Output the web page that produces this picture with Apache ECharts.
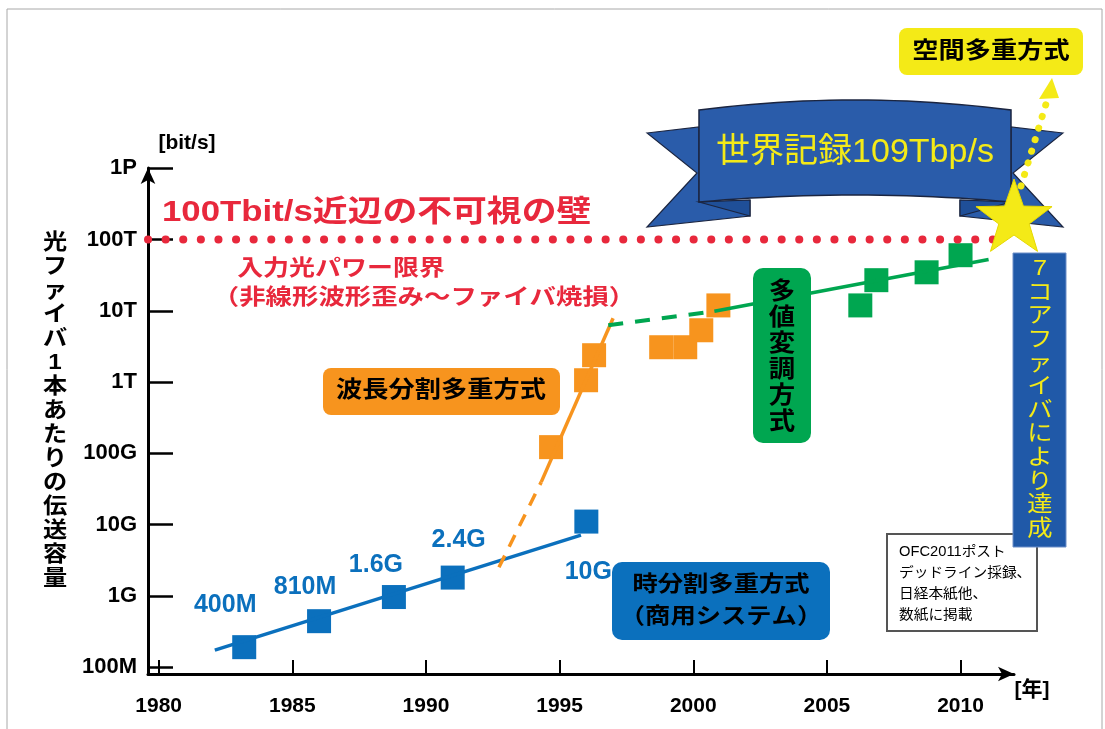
<!DOCTYPE html>
<html lang="ja">
<head>
    <meta charset="UTF-8">
    <title>光ファイバ1本あたりの伝送容量</title>
    <style>
        html, body {
            margin: 0;
            background: #fff;
        }
        #main {
            width: 1105px;
            height: 729px;
        }
    </style>
</head>
<body>
<div id="main"></div>
<script src="https://cdn.jsdelivr.net/npm/echarts@6/dist/echarts.min.js"></script>
<script>
    // 軸
    var xTickValues = [1980, 1985, 1990, 1995, 2000, 2005, 2010];
    var yTickValues = [1e8, 1e9, 1e10, 1e11, 1e12, 1e13, 1e14, 1e15];
    var yTickLabels = ['100M', '1G', '10G', '100G', '1T', '10T', '100T', '1P'];

    // 時分割多重方式
    var tdmYears = [1983.2, 1986.0, 1988.8, 1991.0, 1996.0];
    var tdmRates = [1.9e8, 4.4e8, 9.6e8, 1.8e9, 1.1e10];
    var tdmLabels = ['400M', '810M', '1.6G', '2.4G', '10G'];
    var tdmTrendYears = [1982.1, 1995.8];
    var tdmTrendRates = [1.73e8, 7.1e9];

    // 波長分割多重方式
    var wdmYears = [1994.68, 1995.99, 1996.29, 1998.8, 1999.7, 2000.3, 2000.94];
    var wdmRates = [1.22e11, 1.06e12, 2.38e12, 3.08e12, 3.08e12, 5.33e12, 1.19e13];
    var wdmDashYears = [1992.73, 1994.31];
    var wdmDashRates = [2.51e9, 3.94e10];
    var wdmTrendYears = [1994.31, 1997.0];
    var wdmTrendRates = [3.94e10, 7.85e12];

    // 多値変調方式
    var mlmYears = [2006.25, 2006.85, 2008.73, 2010.0];
    var mlmRates = [1.19e13, 2.69e13, 3.47e13, 6.03e13];
    var mlmDashYears = [1996.82, 2000.79];
    var mlmDashRates = [6.27e12, 9.84e12];
    var mlmTrendYears = [2000.79, 2011.05];
    var mlmTrendRates = [9.84e12, 5.25e13];

    // 100Tbit/s の壁
    var wallYears = [1979.6, 2011.3];
    var wallRates = [1e14, 1e14];

    var BLUE = '#0b70bd';
    var ORANGE = '#f7941e';
    var GREEN = '#00a650';
    var RED = '#e8283c';
    var YELLOW = '#f4ea17';
    var NAVY = '#2a5caa';
    var FONT = '"Liberation Sans", "Noto Sans CJK JP", sans-serif';

    // ラベル位置（点の中心からのずれ）
    var tdmLabelOffsets = [[-19, -42], [-14, -34], [-18, -32], [6, -37], [2, 51]];

    function pairs(xs, ys) {
        return xs.map(function (x, i) {
            return [x, ys[i]];
        });
    }

    function text(x, y, s, size, weight, color, extra) {
        var el = {
            type: 'text', x: x, y: y, z: 100,
            style: {
                text: s,
                font: weight + ' ' + size + 'px ' + FONT,
                fill: color,
                align: 'center', verticalAlign: 'middle',
                textAlign: 'center', textVerticalAlign: 'middle'
            }
        };
        if (extra) {
            for (var k in extra) {
                if (k === 'style') {
                    for (var s2 in extra.style) el.style[s2] = extra.style[s2];
                } else {
                    el[k] = extra[k];
                }
            }
        }
        return el;
    }

    function vertical(s) {
        return s.split('').join('\n');
    }

    function starPoints(cx, cy, R, r) {
        var pts = [];
        for (var i = 0; i < 10; i++) {
            var a = -Math.PI / 2 + i * Math.PI / 5;
            var rad = i % 2 === 0 ? R : r;
            pts.push([cx + rad * Math.cos(a), cy + rad * Math.sin(a)]);
        }
        return pts;
    }

    // リボン本体（上下がゆるく弧を描く）
    function ribbonBody(x0, x1, top0, topMid, bot0, botMid) {
        var pts = [], n = 24, i, t;
        for (i = 0; i <= n; i++) {
            t = i / n;
            pts.push([x0 + (x1 - x0) * t, top0 - (top0 - topMid) * 4 * t * (1 - t)]);
        }
        for (i = n; i >= 0; i--) {
            t = i / n;
            pts.push([x0 + (x1 - x0) * t, bot0 - (bot0 - botMid) * 4 * t * (1 - t)]);
        }
        return pts;
    }

    function mirror(pts, axis2) {
        return pts.map(function (p) {
            return [axis2 - p[0], p[1]];
        });
    }

    var leftTail = [[647, 133], [699, 127], [699, 202], [750, 200], [750, 216], [647, 227], [697, 173]];
    var leftFold = [[699, 202], [750, 200], [750, 216]];

    var chart = echarts.init(document.getElementById('main'));

    var option = {
        animation: false,
        backgroundColor: '#fff',
        grid: {left: 148, right: 91, top: 168, bottom: 55},
        xAxis: {
            type: 'value',
            min: 1979.6,
            max: 2012,
            axisLine: {
                show: true, onZero: false,
                symbol: ['none', 'arrow'], symbolSize: [11, 16],
                lineStyle: {color: '#000', width: 3}
            },
            axisTick: {
                show: true, inside: true, length: 14,
                customValues: xTickValues,
                lineStyle: {color: '#000', width: 2}
            },
            axisLabel: {
                customValues: xTickValues,
                margin: 22,
                color: '#000',
                fontSize: 21,
                fontWeight: 'bold',
                fontFamily: 'Liberation Sans',
                formatter: function (v) {
                    return String(Math.round(v));
                }
            },
            splitLine: {show: false}
        },
        yAxis: {
            type: 'log',
            logBase: 10,
            min: Math.pow(10, 7.902),
            max: 1.01e15,
            axisLine: {
                show: true, onZero: false,
                symbol: ['none', 'arrow'], symbolSize: [11, 16],
                lineStyle: {color: '#000', width: 3}
            },
            axisTick: {
                show: true, inside: true, length: 25,
                customValues: yTickValues,
                lineStyle: {color: '#000', width: 2.5}
            },
            axisLabel: {
                customValues: yTickValues,
                margin: 11,
                color: '#000',
                fontSize: 22,
                fontWeight: 'bold',
                fontFamily: 'Liberation Sans',
                formatter: function (v) {
                    var i = Math.round(Math.log(v) / Math.LN10) - 8;
                    return yTickLabels[i] || '';
                }
            },
            splitLine: {show: false}
        },
        series: [
            {
                type: 'line', symbol: 'none', silent: true,
                data: pairs(tdmTrendYears, tdmTrendRates),
                lineStyle: {color: BLUE, width: 3.5}
            },
            {
                type: 'line', symbol: 'none', silent: true,
                data: pairs(wdmDashYears, wdmDashRates),
                lineStyle: {color: ORANGE, width: 3.5, type: [13, 10]}
            },
            {
                type: 'line', symbol: 'none', silent: true,
                data: pairs(wdmTrendYears, wdmTrendRates),
                lineStyle: {color: ORANGE, width: 3.5}
            },
            {
                type: 'line', symbol: 'none', silent: true,
                data: pairs(mlmDashYears, mlmDashRates),
                lineStyle: {color: GREEN, width: 4, type: [15, 12]}
            },
            {
                type: 'line', symbol: 'none', silent: true,
                data: pairs(mlmTrendYears, mlmTrendRates),
                lineStyle: {color: GREEN, width: 3.5}
            },
            {
                type: 'scatter', symbol: 'rect', symbolSize: 24,
                itemStyle: {color: BLUE, opacity: 1},
                data: pairs(tdmYears, tdmRates).map(function (p, i) {
                    return {value: p, label: {offset: tdmLabelOffsets[i]}};
                }),
                label: {
                    show: true,
                    position: 'inside',
                    color: BLUE,
                    fontSize: 25,
                    fontWeight: 'bold',
                    fontFamily: 'Liberation Sans',
                    formatter: function (p) {
                        return tdmLabels[p.dataIndex];
                    }
                }
            },
            {
                type: 'scatter', symbol: 'rect', symbolSize: 24,
                itemStyle: {color: ORANGE, opacity: 1},
                data: pairs(wdmYears, wdmRates)
            },
            {
                type: 'scatter', symbol: 'rect', symbolSize: 24,
                itemStyle: {color: GREEN, opacity: 1},
                data: pairs(mlmYears, mlmRates)
            },
            {
                type: 'line', symbol: 'none', silent: true, clip: false,
                data: pairs(wallYears, wallRates),
                lineStyle: {color: RED, width: 8, type: [0.1, 17.5], cap: 'round'}
            }
        ],
        graphic: [
            // 外枠
            {
                type: 'rect', z: 0, silent: true,
                shape: {x: 7, y: 9, width: 1095, height: 740},
                style: {fill: 'none', stroke: '#a8a8a8', lineWidth: 1}
            },
            text(187, 143, '[bit/s]', 21, 'bold', '#000'),
            text(1032, 690, '[年]', 21, 'bold', '#000'),
            text(55, 411, vertical('光ファイバ1本あたりの伝送容量'), 22, 'bold', '#000',
                {scaleX: 1.1, style: {lineHeight: 24}}),

            // 赤の注記
            text(162, 213, '100Tbit/s近辺の不可視の壁', 30, 'bold', RED,
                {scaleX: 1.16, style: {align: 'left', textAlign: 'left'}}),
            text(341, 269, '入力光パワー限界', 22, 'bold', RED, {scaleX: 1.18}),
            text(424, 298, '（非線形波形歪み～ファイバ焼損）', 22, 'bold', RED, {scaleX: 1.2}),

            // 波長分割多重方式
            {
                type: 'rect', z: 100,
                shape: {x: 323, y: 368, width: 237, height: 47, r: 8},
                style: {fill: ORANGE}
            },
            text(441, 391, '波長分割多重方式', 23, 'bold', '#000', {scaleX: 1.14}),

            // 多値変調方式
            {
                type: 'rect', z: 100,
                shape: {x: 753, y: 268, width: 58, height: 175, r: 10},
                style: {fill: GREEN}
            },
            text(782, 357, vertical('多値変調方式'), 24, 'bold', '#000',
                {scaleX: 1.1, style: {lineHeight: 26}}),

            // 時分割多重方式
            {
                type: 'rect', z: 100,
                shape: {x: 612, y: 562, width: 218, height: 78, r: 10},
                style: {fill: BLUE}
            },
            text(721, 601, '時分割多重方式\n（商用システム）', 22, 'bold', '#000',
                {scaleX: 1.15, style: {lineHeight: 32}}),

            // 掲載メモ
            {
                type: 'rect', z: 100,
                shape: {x: 887, y: 534, width: 150, height: 97},
                style: {fill: '#fff', stroke: '#555', lineWidth: 2}
            },
            text(899, 584, 'OFC2011ポスト\nデッドライン採録、\n日経本紙他、\n数紙に掲載', 14, 'normal', '#000',
                {scaleX: 1.05, style: {align: 'left', textAlign: 'left', lineHeight: 21}}),

            // 7コアファイバ
            {
                type: 'rect', z: 101,
                shape: {x: 1013, y: 253, width: 53, height: 294},
                style: {fill: '#2059a8', stroke: '#6d8fc8', lineWidth: 1}
            },
            text(1040, 399, vertical('7コアファイバにより達成'), 22, 'normal', YELLOW,
                {z: 102, scaleX: 1.15, style: {lineHeight: 23.6}}),

            // リボン
            {
                type: 'polygon', z: 100,
                shape: {points: leftTail},
                style: {fill: NAVY, stroke: '#1b2540', lineWidth: 1.2}
            },
            {
                type: 'polygon', z: 100,
                shape: {points: mirror(leftTail, 1710)},
                style: {fill: NAVY, stroke: '#1b2540', lineWidth: 1.2}
            },
            {
                type: 'polygon', z: 100,
                shape: {points: leftFold},
                style: {fill: '#1f4f98', stroke: '#1b2540', lineWidth: 1.2}
            },
            {
                type: 'polygon', z: 100,
                shape: {points: mirror(leftFold, 1710)},
                style: {fill: '#1f4f98', stroke: '#1b2540', lineWidth: 1.2}
            },
            {
                type: 'polygon', z: 100,
                shape: {points: ribbonBody(699, 1011, 110, 100, 202, 195)},
                style: {fill: NAVY, stroke: '#1b2540', lineWidth: 1.5}
            },
            text(855, 153, '世界記録109Tbp/s', 34, 'normal', YELLOW),

            // 空間多重方式
            {
                type: 'rect', z: 100,
                shape: {x: 899, y: 28, width: 184, height: 47, r: 8},
                style: {fill: YELLOW}
            },
            text(991, 52, '空間多重方式', 23, 'bold', '#000', {scaleX: 1.14}),
            {
                type: 'line', z: 100,
                shape: {x1: 1021, y1: 186, x2: 1046, y2: 104},
                style: {stroke: YELLOW, lineWidth: 7, lineDash: [0.1, 12], lineCap: 'round'}
            },
            {
                type: 'polygon', z: 100,
                shape: {points: [[1039, 99], [1059, 98], [1052, 78]]},
                style: {fill: YELLOW}
            },

            // 星
            {
                type: 'polygon', z: 103,
                shape: {points: starPoints(1014, 219, 40, 16)},
                style: {fill: YELLOW, stroke: '#e6d800', lineWidth: 1}
            }
        ]
    };

    chart.setOption(option);
</script>
</body>
</html>
